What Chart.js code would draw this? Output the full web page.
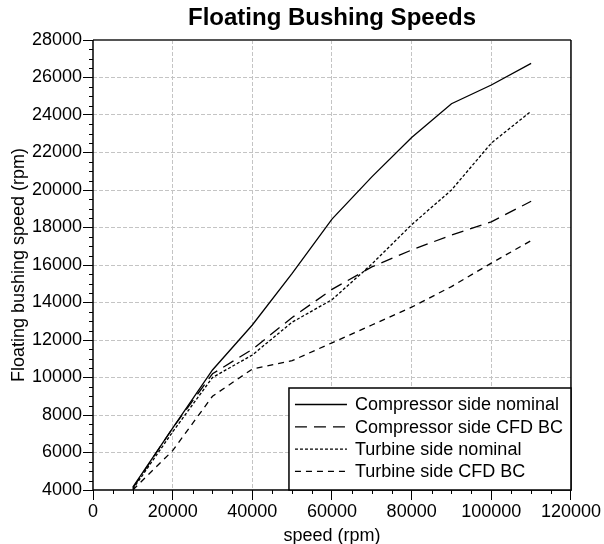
<!DOCTYPE html>
<html>
<head>
<meta charset="utf-8">
<script src="https://cdn.jsdelivr.net/npm/chart.js@4"></script>
<style>
html,body{margin:0;padding:0;background:#fff;}
#c{display:block;}
</style>
</head>
<body>
<canvas id="c" width="604" height="544"></canvas>
<script>
// ---- data ----
const speeds = [10000, 20000, 30000, 40000, 50000, 60000, 70000, 80000, 90000, 100000, 110000];
const compressorNominal = [4150, 7300, 10400, 12800, 15550, 18450, 20700, 22800, 24600, 25600, 26750];
const compressorCFD     = [4100, 7300, 10200, 11500, 13200, 14700, 15900, 16800, 17600, 18300, 19400];
const turbineNominal    = [4050, 7100, 10000, 11200, 12950, 14150, 16050, 18150, 20000, 22500, 24200];
const turbineCFD        = [4000, 6100, 9000, 10450, 10900, 11850, 12800, 13750, 14850, 16100, 17300];
const seriesLabels = ['Compressor side nominal', 'Compressor side CFD BC', 'Turbine side nominal', 'Turbine side CFD BC'];
const xTicks = [0, 20000, 40000, 60000, 80000, 100000, 120000];
const yTicks = [4000, 6000, 8000, 10000, 12000, 14000, 16000, 18000, 20000, 22000, 24000, 26000, 28000];

const FONT = "'Liberation Sans', Arial, sans-serif";
const dashes = [[], [12, 7], [3, 2], [6, 5]];
const seriesValues = [compressorNominal, compressorCFD, turbineNominal, turbineCFD];

const datasets = seriesValues.map((vals, i) => ({
  label: seriesLabels[i],
  data: speeds.map((s, j) => ({x: s, y: vals[j]})),
  borderColor: '#000',
  borderWidth: 1.3,
  borderDash: dashes[i],
  pointRadius: 0,
  pointHoverRadius: 0,
  fill: false,
  tension: 0
}));

const framePlugin = {
  id: 'frame',
  beforeDatasetsDraw(chart) {
    const {ctx, chartArea: a, scales} = chart;
    ctx.save();
    // minor ticks
    ctx.strokeStyle = '#000';
    ctx.lineWidth = 1;
    ctx.setLineDash([]);
    ctx.beginPath();
    for (let v = 5000; v < 120000; v += 5000) {
      if (v % 20000 === 0) continue;
      const px = Math.round(scales.x.getPixelForValue(v)) + 0.5;
      ctx.moveTo(px, a.bottom); ctx.lineTo(px, a.bottom + 4);
    }
    for (let v = 4500; v < 28000; v += 500) {
      if (v % 2000 === 0) continue;
      const py = Math.round(scales.y.getPixelForValue(v)) + 0.5;
      ctx.moveTo(a.left - 4, py); ctx.lineTo(a.left, py);
    }
    ctx.stroke();
    ctx.restore();
  },
  afterDatasetsDraw(chart) {
    const {ctx, chartArea: a} = chart;
    ctx.save();
    ctx.setLineDash([]);
    // frame
    ctx.lineWidth = 2;
    ctx.strokeStyle = '#555';
    ctx.beginPath(); ctx.moveTo(a.left, a.top); ctx.lineTo(a.right, a.top); ctx.stroke();
    ctx.strokeStyle = '#000';
    ctx.lineWidth = 1.5;
    ctx.beginPath();
    ctx.moveTo(a.left, a.top); ctx.lineTo(a.left, a.bottom); ctx.lineTo(a.right, a.bottom); ctx.lineTo(a.right, a.top);
    ctx.stroke();
    // legend
    const w = 282, h = 102;
    const lx = a.right - w, ly = a.bottom - h;
    ctx.fillStyle = '#fff';
    ctx.fillRect(lx, ly, w, h);
    ctx.strokeStyle = '#000';
    ctx.lineWidth = 1.5;
    ctx.strokeRect(lx, ly, w, h);
    ctx.font = '18px ' + FONT;
    ctx.textBaseline = 'middle';
    ctx.textAlign = 'left';
    chart.data.datasets.forEach((ds, i) => {
      const y = ly + 16.5 + i * 22.3;
      ctx.setLineDash(ds.borderDash);
      ctx.lineWidth = 1.3;
      ctx.strokeStyle = '#000';
      ctx.beginPath(); ctx.moveTo(lx + 6, y); ctx.lineTo(lx + 58, y); ctx.stroke();
      ctx.setLineDash([]);
      ctx.fillStyle = '#000';
      ctx.fillText(ds.label, lx + 66, y + 1);
    });
    ctx.restore();
  }
};

const plain = v => String(v);

new Chart(document.getElementById('c'), {
  type: 'line',
  data: {datasets},
  options: {
    responsive: false,
    animation: false,
    devicePixelRatio: 1,
    layout: {padding: {left: 0, right: 33, top: 0, bottom: 0}},
    plugins: {
      legend: {display: false},
      tooltip: {enabled: false},
      title: {
        display: true,
        fullSize: false,
        text: 'Floating Bushing Speeds',
        color: '#000',
        font: {family: FONT, size: 24, weight: 'bold', lineHeight: 1.2},
        padding: {top: 4, bottom: 7.2}
      }
    },
    scales: {
      x: {
        type: 'linear',
        min: 0, max: 120000,
        afterBuildTicks: s => { s.ticks = xTicks.map(v => ({value: v})); },
        afterFit: s => { s.height = 54; },
        ticks: {color: '#000', font: {family: FONT, size: 18, lineHeight: 1}, padding: 3, maxRotation: 0, autoSkip: false, callback: plain},
        grid: {color: (c) => (c.tick && (c.tick.value === 0 || c.tick.value === 120000)) ? 'rgba(0,0,0,0)' : '#c4c4c4',
               lineWidth: 1, tickColor: '#000', tickLength: 10, tickWidth: 1},
        border: {display: false, dash: [4, 2]},
        title: {display: true, text: 'speed (rpm)', color: '#000', font: {family: FONT, size: 18, lineHeight: 1}, padding: {top: 0, bottom: -1}}
      },
      y: {
        type: 'linear',
        min: 4000, max: 28000,
        afterBuildTicks: s => { s.ticks = yTicks.map(v => ({value: v})); },
        afterFit: s => { s.width = 93; },
        ticks: {color: '#000', font: {family: FONT, size: 18, lineHeight: 1}, padding: 1, autoSkip: false, callback: plain},
        grid: {color: (c) => (c.tick && (c.tick.value === 4000 || c.tick.value === 28000)) ? 'rgba(0,0,0,0)' : '#c4c4c4',
               lineWidth: 1, tickColor: '#000', tickLength: 10, tickWidth: 1},
        border: {display: false, dash: [4, 2]},
        title: {display: true, text: 'Floating bushing speed (rpm)', color: '#000', font: {family: FONT, size: 18, lineHeight: 1}, padding: {top: 10, bottom: 0}}
      }
    }
  },
  plugins: [framePlugin]
});
</script>
</body>
</html>
